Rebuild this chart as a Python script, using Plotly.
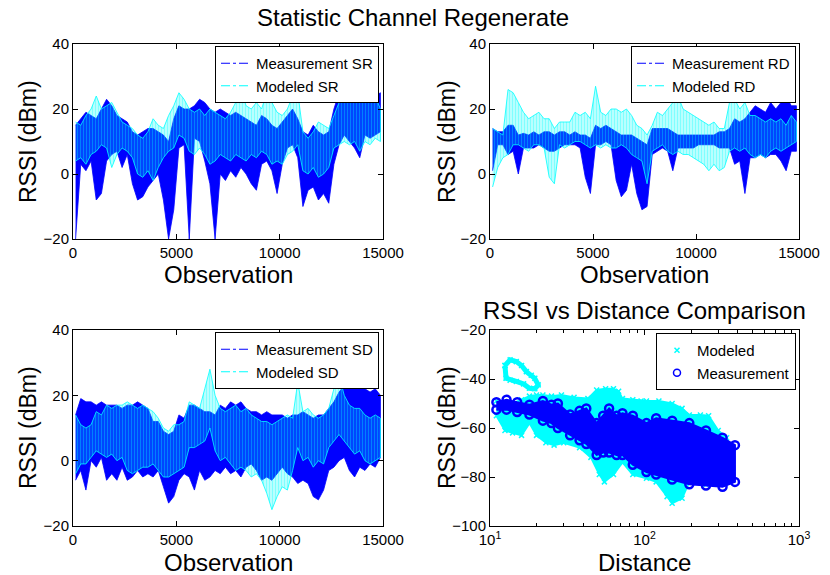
import plotly.graph_objects as go

# ---------------- data ----------------
BIN = 250  # observations per bin; each bin keeps its low / high excursion
obs_ticks = [0, 5000, 10000, 15000]
obs_ticklabels = ["0", "5000", "10000", "15000"]
rssi_ticks = [-20, 0, 20, 40]
dist_ticks = [10, 100, 1000]
dist_ticklabels = ["10<sup>1</sup>", "10<sup>2</sup>", "10<sup>3</sup>"]
dist_minor = [20, 30, 40, 50, 60, 70, 80, 90, 200, 300, 400, 500, 600, 700, 800, 900]
rssi_d_ticks = [-100, -80, -60, -40, -20]

sr_meas_hi = [15, 17, 19, 18, 17, 20, 23, 21, 18, 17, 16, 13, 12, 13, 14, 14, 13, 12, 10, 17,
              21, 20, 20, 21, 23, 22, 20, 19, 20, 19, 18, 19, 18, 17, 16, 15, 18, 17, 15, 14,
              16, 18, 20, 17, 13, 12, 15, 13, 12, 13, 20, 25, 24, 26, 23, 22, 25, 26, 24, 25]
sr_meas_lo = [-20, 3, 1, 4, -8, -6, 4, 6, 7, 2, 6, -3, -8, -7, -4, -2, 0, -8, -20, -11,
              8, 9, -20, 11, 10, 4, -3, -20, 0, -2, 1, -1, 2, 0, -3, -5, 3, 4, 1, -6,
              3, 8, 9, 5, -10, -5, -4, -8, -6, -9, 3, 9, 12, 10, 8, 5, 12, 11, 12, 13]
sr_model_hi = [16, 15, 18, 20, 24, 20, 21, 22, 19, 16, 15, 14, 12, 11, 13, 17, 15, 14, 18, 21,
               25, 23, 20, 19, 20, 18, 20, 19, 18, 17, 19, 22, 26, 21, 20, 22, 20, 25, 22, 19,
               18, 20, 24, 25, 13, 11, 13, 16, 15, 14, 18, 22, 28, 27, 24, 22, 26, 25, 24, 20]
sr_model_lo = [4, 5, 3, 6, 7, 9, 8, 2, 6, 8, 7, 5, 0, -1, 1, -2, 2, 5, 7, 8,
               12, 11, 7, 6, 8, 6, 3, 4, 6, 5, 4, 6, 5, 4, 6, 5, 7, 6, 3, 4,
               3, 6, 7, 9, 1, 0, 2, -1, 0, 2, 8, 9, 10, 9, 10, 7, 10, 9, 11, 10]

rd_meas_hi = [14, 13, 13, 15, 15, 12, 12.5, 12, 13, 12, 13, 13, 12, 13, 13, 12, 13, 12, 12, 11,
              15, 14, 15, 14, 13, 12, 12, 12, 11, 10, 9, 14, 14, 14, 14, 13, 12, 12, 12, 12,
              12, 12, 12, 12, 13, 13, 14, 17, 16, 17, 19, 21, 20, 19, 22, 20, 22, 24, 21, 21]
rd_meas_lo = [1, 9, 9, 6, 7, 0, 8, 8, 8, 9, 8, 7, 7, 8, 9, 9, 9, 8, -1, -6,
              9, 9, 10, 9, -2, -7, -5, 3, -6, -11, -10, 6, 7, 8, 7, 1, 8, 8, 8, 8,
              9, 9, 9, 9, 8, 8, 8, 3, 4, -6, 5, 5, 6, 5, 6, 6, 4, 1, 7, 7]
rd_model_hi = [14, 13, 12, 26, 25, 22, 19, 17, 18, 19, 17, 17, 14, 16, 16, 16, 19, 18, 19, 17,
               27, 19, 18, 20, 20, 19, 20, 18, 15, 14, 12, 15, 19, 18, 20, 22, 24, 20, 19, 18,
               17, 16, 15, 16, 14, 14, 22, 23, 20, 22, 18, 18, 17, 16, 17, 16, 17, 15, 18, 16]
rd_model_lo = [-4, 2, 5, 6, 9, 9, 8, 7, 9, 9, 8, -1, -3, 9, 8, 9, 10, 10, 9, 8,
               9, 8, 9, 8, 8, 9, 8, 6, 5, 4, -3, 7, 8, 9, 7, 6, 7, 6, 6, 5,
               4, 3, 1, 3, 1, 2, 7, 8, 7, 8, 6, 5, 6, 5, 7, 8, 7, 8, 9, 10]

sd_meas_hi = [14, 19, 18, 18, 17, 18, 17, 17, 17, 16, 17, 17, 18, 17, 16, 12, 12, 9, 8, 9,
              14, 13, 17, 17, 16, 15, 15, 14, 17, 16, 18, 17, 18, 16, 15, 15, 14, 15, 14, 14,
              14, 13, 14, 14, 15, 14, 13, 14, 14, 16, 18, 21, 23, 22, 23, 25, 22, 21, 22, 20]
sd_meas_lo = [-6, -3, -9, 0, -2, 1, -6, -4, -6, -2, -6, -5, -3, -5, -4, -5, -3, -8, -13, -11,
              -6, -4, -5, -9, -3, -6, -5, -3, -4, -2, -4, -3, -5, -2, -1, -3, -6, -5, -6, -4,
              -2, -4, -5, -7, -6, -7, -11, -12, -9, -3, -2, 0, 1, -3, -5, -2, -3, -1, -2, 1]
sd_model_hi = [14, 11, 10, 11, 15, 14, 17, 16, 17, 17, 18, 17, 16, 17, 16, 15, 13, 10, 9, 11,
               11, 12, 18, 17, 16, 22, 28, 20, 16, 15, 16, 17, 15, 16, 14, 13, 12, 12, 11, 12,
               13, 14, 13, 24, 15, 16, 14, 13, 14, 16, 22, 26, 20, 17, 16, 16, 14, 13, 14, 13]
sd_model_lo = [-4, -1, -1, 1, 3, 2, 1, 2, 0, 1, -3, -4, -3, -2, -2, -1, -3, -5, -5, -4,
               -3, -2, 4, 4, 5, 6, 10, 3, 0, 1, -1, -3, -2, -3, -5, -4, -6, -10, -15, -11,
               -8, -9, -3, 4, 0, 1, -2, 0, -1, 4, 6, 8, 6, 4, 2, 3, 0, -1, 0, 1]

# RSSI vs distance: envelopes of the two point clouds
mod_up_d = [11, 12.5, 14, 16, 18, 20, 22, 25, 29, 35, 43, 49, 56, 63, 68, 72, 84, 95, 103, 124,
            151, 175, 195, 230, 260, 300, 340, 360]
mod_up_v = [-49, -50, -50, -48.5, -47, -46.5, -46.5, -47, -46.5, -47.5, -48, -44.5, -44, -44, -45,
            -48, -48.5, -49, -49, -49, -50, -52, -54.7, -54.7, -55, -61, -64, -68]
mod_lo_d = [11, 12.5, 14, 16, 18, 20, 23, 26, 30, 38, 45, 51, 55, 63, 72, 84, 103, 119, 140, 151,
            175, 195, 250, 320, 360]
mod_lo_v = [-55, -61, -62, -63, -58, -63, -66, -67, -66, -68, -72, -79, -82, -79, -74, -79, -80.5,
            -82, -88, -90.7, -88.7, -82, -83, -80.5, -75]
mod_isl_d = [12.5, 13.5, 14.8, 16, 17.2, 18.5, 19.5, 20.5, 19.5, 18, 16.5, 14.8, 13.5, 12.7, 12.5]
mod_isl_v = [-34.5, -32.2, -32.9, -34.5, -37, -38.5, -39.7, -42.4, -44, -43.8, -42, -41, -40.5,
             -39.7, -34.5]

meas_d = [11, 12.8, 15, 18, 22, 25, 27.5, 33, 38, 42, 49, 54, 59, 66, 72, 84, 103, 119, 151, 195,
          250, 320, 385]
meas_top = [-49.5, -48.5, -49.5, -50.5, -49, -50.5, -50, -54.5, -53, -52, -58, -55, -52, -55, -54,
            -55, -58, -56, -57, -58, -61, -64, -67]
meas_bot = [-52.5, -52.5, -53.5, -54.5, -57, -58, -60, -63, -65, -66.5, -71, -70, -70, -71, -71,
            -75, -78, -79, -81, -83, -83.5, -84, -82]

BLUE = "#0000ff"
CYAN = "#00ffff"
FONT = "Liberation Sans, Arial, Helvetica, sans-serif"


def band(lo, hi):
    centers = [i * BIN + BIN / 2 for i in range(len(lo))]
    return centers + centers[::-1], list(hi) + list(lo)[::-1]


fig = go.Figure()

panels = [
    ("x", "y", "legend", sr_meas_lo, sr_meas_hi, sr_model_lo, sr_model_hi, "SR"),
    ("x2", "y2", "legend2", rd_meas_lo, rd_meas_hi, rd_model_lo, rd_model_hi, "RD"),
    ("x3", "y3", "legend3", sd_meas_lo, sd_meas_hi, sd_model_lo, sd_model_hi, "SD"),
]
for xa, ya, lg, mlo, mhi, plo, phi, tag in panels:
    x, y = band(mlo, mhi)
    fig.add_trace(go.Scatter(x=x, y=y, mode="lines", xaxis=xa, yaxis=ya, showlegend=False,
                             fill="toself", fillcolor=BLUE,
                             line=dict(color=BLUE, width=0.8), hoverinfo="skip"))
    x, y = band(plo, phi)
    fig.add_trace(go.Scatter(x=x, y=y, mode="lines", xaxis=xa, yaxis=ya, showlegend=False,
                             fill="toself", fillcolor=CYAN,
                             fillpattern=dict(shape="|", size=3, solidity=0.7, fgcolor=CYAN,
                                              bgcolor="rgba(255,255,255,0)"),
                             line=dict(color=CYAN, width=0.8), hoverinfo="skip"))
    fig.add_trace(go.Scatter(x=[None], y=[None], mode="lines", xaxis=xa, yaxis=ya, legend=lg,
                             name="Measurement " + tag, line=dict(color=BLUE, width=1, dash="dashdot")))
    fig.add_trace(go.Scatter(x=[None], y=[None], mode="lines", xaxis=xa, yaxis=ya, legend=lg,
                             name="Modeled " + tag, line=dict(color=CYAN, width=1, dash="dashdot")))

# panel 4 : modeled cloud (cyan x) then measurement cloud (blue o)
xmark = dict(symbol="x-thin-open", size=5, color=CYAN, line=dict(width=1.5, color=CYAN))
fig.add_trace(go.Scatter(x=mod_up_d + mod_lo_d[::-1], y=mod_up_v + mod_lo_v[::-1],
                         mode="lines+markers", fill="toself", fillcolor=CYAN,
                         line=dict(color=CYAN, width=2), marker=xmark,
                         xaxis="x4", yaxis="y4", showlegend=False, hoverinfo="skip"))
fig.add_trace(go.Scatter(x=mod_isl_d, y=mod_isl_v, mode="lines+markers",
                         line=dict(color=CYAN, width=5), marker=xmark,
                         xaxis="x4", yaxis="y4", showlegend=False, hoverinfo="skip"))
fig.add_trace(go.Scatter(x=meas_d + meas_d[::-1], y=meas_top + meas_bot[::-1],
                         mode="lines+markers", fill="toself", fillcolor=BLUE,
                         line=dict(color=BLUE, width=2),
                         marker=dict(symbol="circle-open", size=8, color=BLUE, line=dict(width=2.5, color=BLUE)),
                         xaxis="x4", yaxis="y4", showlegend=False, hoverinfo="skip"))
fig.add_trace(go.Scatter(x=[None], y=[None], mode="markers", name="Modeled", legend="legend4",
                         marker=xmark, xaxis="x4", yaxis="y4"))
fig.add_trace(go.Scatter(x=[None], y=[None], mode="markers", name="Measurement", legend="legend4",
                         marker=dict(symbol="circle-open", size=7, color=BLUE, line=dict(width=1.5, color=BLUE)),
                         xaxis="x4", yaxis="y4"))

W, H = 830, 575
def fx(px):
    return px / W
def fy(py):
    return 1 - py / H

ax_common = dict(showline=True, linecolor="black", linewidth=1, mirror="ticks", ticks="inside",
                 ticklen=5, tickcolor="black", showgrid=False, zeroline=False, automargin=False,
                 tickfont=dict(size=15, color="black", family=FONT))

xd_left = [fx(73), fx(383)]
xd_right = [fx(490), fx(799)]
yd_top = [fy(239), fy(44)]
yd_bot = [fy(526), fy(330)]

leg_common = dict(xanchor="right", yanchor="top", bordercolor="black", borderwidth=1,
                  bgcolor="white", font=dict(size=15, family=FONT, color="black"),
                  tracegroupgap=0, itemwidth=30)

fig.update_layout(
    width=W, height=H, margin=dict(l=0, r=0, t=0, b=0, autoexpand=False),
    paper_bgcolor="white", plot_bgcolor="white",
    font=dict(family=FONT, color="black"),
    xaxis=dict(domain=xd_left, anchor="y", range=[0, 15000], tickvals=obs_ticks, ticktext=obs_ticklabels, **ax_common),
    yaxis=dict(domain=yd_top, anchor="x", range=[-20, 40], tickvals=rssi_ticks, **ax_common),
    xaxis2=dict(domain=xd_right, anchor="y2", range=[0, 15000], tickvals=obs_ticks, ticktext=obs_ticklabels, **ax_common),
    yaxis2=dict(domain=yd_top, anchor="x2", range=[-20, 40], tickvals=rssi_ticks, **ax_common),
    xaxis3=dict(domain=xd_left, anchor="y3", range=[0, 15000], tickvals=obs_ticks, ticktext=obs_ticklabels, **ax_common),
    yaxis3=dict(domain=yd_bot, anchor="x3", range=[-20, 40], tickvals=rssi_ticks, **ax_common),
    xaxis4=dict(domain=xd_right, anchor="y4", type="log", range=[1, 3], tickvals=dist_ticks,
                ticktext=dist_ticklabels,
                minor=dict(tickvals=dist_minor, ticks="inside", ticklen=3, tickcolor="black"),
                **ax_common),
    yaxis4=dict(domain=yd_bot, anchor="x4", range=[-100, -20], tickvals=rssi_d_ticks, **ax_common),
    legend=dict(x=fx(379), y=fy(46), **leg_common),
    legend2=dict(x=fx(796), y=fy(46), **leg_common),
    legend3=dict(x=fx(379), y=fy(332), **leg_common),
    legend4=dict(x=fx(796), y=fy(333), **leg_common),
)

ann = []
def text(x, y, s, size, angle=0):
    ann.append(dict(x=x, y=y, xref="paper", yref="paper", text=s, showarrow=False,
                    xanchor="center", yanchor="middle", textangle=angle,
                    font=dict(size=size, family=FONT, color="black")))

text(fx(413), fy(18), "Statistic Channel Regenerate", 24)
text(fx(644.5), fy(310), "RSSI vs Distance Comparison", 24)
text(fx(228), fy(274), "Observation", 24)
text(fx(644.5), fy(274), "Observation", 24)
text(fx(228), fy(562), "Observation", 24)
text(fx(644.5), fy(562), "Distance", 24)
for xx in (28, 447):
    for yy in (142, 428):
        text(fx(xx), fy(yy), "RSSI (dBm)", 23, -90)
fig.update_layout(annotations=ann)

fig.write_html("out.html")
